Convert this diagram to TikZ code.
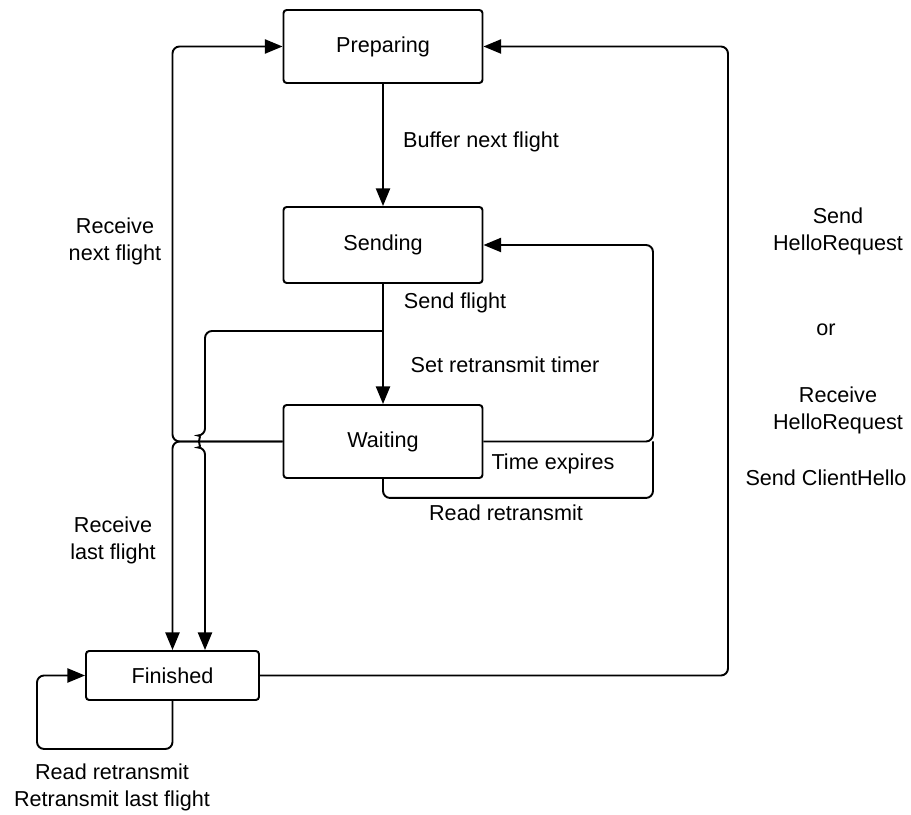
\documentclass[tikz,border=0pt]{standalone}
\usepackage{fontspec}
\setmainfont{Liberation Sans}
\usetikzlibrary{arrows.meta}
\begin{document}
\begin{tikzpicture}
        [state/.style={rectangle, draw, rounded corners=1.8pt, line width=1.1pt,
                       minimum width=3.98cm, minimum height=1.46cm},
        edge/.style={line width=1.1pt, black, rounded corners=4pt,
                     -{Triangle[length=10pt,width=8pt]}},
        line/.style={line width=1.1pt, black, rounded corners=4pt},
        lbl/.style={align=center}]
        \fontsize{12.3}{15.3}\selectfont
        \useasboundingbox (0,0) rectangle (18.22,16.28);

        \node[state] (prep) at (7.66,15.35) {Preparing};
        \node[state, minimum height=1.52cm] (send) at (7.66,11.38) {Sending};
        \node[state] (wait) at (7.66,7.45) {Waiting};
        \node[state, minimum width=3.46cm, minimum height=0.98cm] (fin) at (3.45,2.77) {Finished};

        % corner points of the connectors
        \coordinate (split) at (7.66,9.66);
        \coordinate (hop) at (4.10,7.45);
        \coordinate (tx) at (13.06,7.45);

        % main flow
        \draw[edge] (prep) -- (send);
        \draw[edge] (send) -- (wait);
        \draw[edge] (split) -| ([yshift=0.12cm]hop) arc[start angle=90, end angle=270, radius=0.12cm] -- (hop |- fin.north);

        % from waiting
        \draw[edge] (wait.west) -| (fin.north |- prep.west) -- (prep.west);
        \draw[edge] (wait.west) -| (fin.north);
        \draw[edge] (wait.east) -- (tx) |- (send.east);
        \draw[line] (wait.south) -- ++(0,-0.38) -| (tx);

        % from finished
        \draw[edge] (fin.east) -- ++(9.36,0) |- (prep.east);
        \draw[edge] (fin.south) -- ++(0,-0.96) -- ++(-2.71,0) |- (fin.west);

        % labels
        \node[lbl] at (9.62,13.44) {Buffer next flight};
        \node[lbl] at (9.10,10.22) {Send flight};
        \node[lbl] at (10.10,8.98) {Set retransmit timer};
        \node[lbl] at (11.06,7.00) {Time expires};
        \node[lbl] at (10.12,6.02) {Read retransmit};
        \node[lbl] at (2.30,11.46) {Receive\\next flight};
        \node[lbl] at (2.26,5.48) {Receive\\last flight};
        \node[lbl] at (16.76,11.66) {Send\\HelloRequest};
        \node[lbl] at (16.52,9.68) {or};
        \node[lbl] at (16.76,8.08) {Receive\\HelloRequest};
        \node[lbl] at (16.52,6.72) {Send ClientHello};
        \node[lbl] at (2.24,0.54) {Read retransmit\\Retransmit last flight};

    \end{tikzpicture}
\end{document}
